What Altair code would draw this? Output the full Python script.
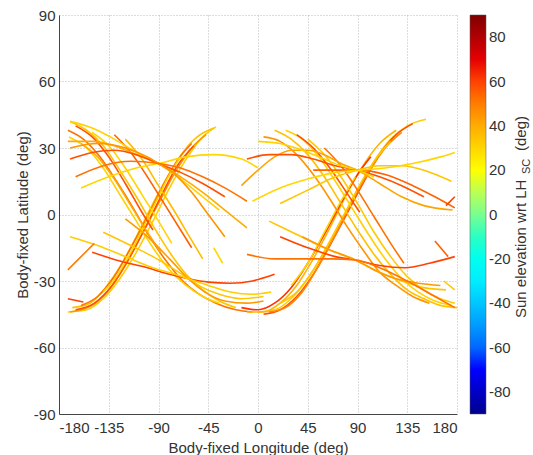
import altair as alt
import pandas as pd

# ---- data (lon, lat) per track, and sun elevation per track ----
left_asc = [
    [(-172,-44),(-155,-43),(-140,-38),(-125,-29),(-110,-17),(-95,-3),(-80,12),(-65,25),(-50,35),(-38,39.5)],
    [(-170,-44),(-150,-41),(-135,-34),(-120,-23),(-105,-9),(-90,5),(-75,19),(-60,30),(-47,36)],
    [(-165,-43),(-148,-40),(-132,-32),(-117,-20),(-102,-6),(-88,8),(-73,22),(-58,31)],
    [(-168,-42),(-152,-40),(-138,-33),(-124,-23),(-110,-10),(-96,4),(-82,17),(-68,28),(-55,35),(-40,39)],
    [(-160,-41),(-145,-37),(-130,-28),(-115,-15),(-100,-1),(-86,13),(-72,25),(-60,32)],
    [(-140,-35),(-128,-28),(-115,-17),(-103,-5),(-92,6),(-80,18),(-70,26)],
    [(-172,-38),(-158,-39.5)],
]
left_asc_sun = [32, 45, 58, 35, 52, 30, 60]

left_desc = [
    [(-170,42),(-155,38),(-140,31),(-125,20),(-110,8),(-95,-5),(-80,-17),(-65,-27),(-50,-34),(-35,-39),(-20,-42)],
    [(-172,38),(-158,34),(-143,26),(-128,15),(-113,3),(-98,-10),(-83,-21),(-68,-30),(-53,-36),(-38,-40),(-20,-43),(-5,-44)],
    [(-171,35),(-155,30),(-140,21),(-125,9),(-110,-3),(-95,-15),(-80,-25),(-65,-32),(-50,-37),(-35,-40)],
    [(-165,40),(-150,35),(-135,26),(-120,14),(-105,1),(-95,-7)],
    [(-160,32),(-145,26),(-130,16),(-115,4),(-100,-8),(-88,-17)],
    [(-150,37),(-135,31),(-120,21),(-105,9),(-90,-3),(-78,-13)],
    [(-130,36),(-115,28),(-100,17),(-85,5),(-70,-7),(-60,-15)],
    [(-120,34),(-105,25),(-90,13),(-75,1),(-62,-10),(-50,-20)],
]
left_desc_sun = [34, 52, 31, 58, 40, 30, 55, 36]

left_gentle = [
    [(-170,42),(-150,39),(-130,34),(-110,28),(-90,23),(-70,16),(-50,8),(-35,2)],
    [(-172,33),(-150,33),(-130,31),(-110,27),(-90,23),(-70,17),(-50,10),(-30,2),(-10,-6)],
    [(-170,25),(-150,28),(-130,29),(-110,27),(-90,23),(-70,19),(-50,14),(-30,8)],
    [(-160,12),(-135,17),(-110,21),(-90,23),(-65,26),(-40,27),(-15,25),(0,21)],
    [(-170,30),(-145,32),(-120,30),(-100,26),(-90,23),(-75,18),(-60,10),(-45,0),(-30,-10)],
    [(-165,17),(-140,22),(-115,24),(-90,23),(-70,21),(-50,17),(-30,12),(-10,6)],
]
left_gentle_sun = [31, 40, 58, 30, 45, 52]

left_lower = [
    [(-150,-17),(-125,-21),(-100,-24),(-80,-27),(-63,-29),(-45,-30.5),(-25,-31),(-5,-30),(15,-27)],
    [(-140,-8),(-115,-14),(-95,-19),(-75,-25),(-63,-29),(-50,-33),(-35,-36),(-15,-38),(5,-37)],
    [(-120,-2),(-100,-10),(-80,-20),(-63,-29),(-48,-35),(-30,-39),(-10,-40),(5,-39)],
    [(-170,-10),(-145,-14),(-120,-19),(-95,-24),(-75,-27),(-63,-29),(-45,-32),(-25,-35),(-5,-36),(12,-35)],
]
left_lower_sun = [60, 34, 44, 32]

right_asc = [
    [(0,-44),(15,-43),(30,-38),(45,-29),(60,-17),(75,-3),(90,11),(105,24),(120,34),(135,40),(152,43)],
    [(5,-45),(20,-43),(35,-37),(50,-27),(65,-14),(80,0),(95,14),(110,27),(125,36),(140,41)],
    [(-10,-44),(5,-44),(20,-40),(35,-32),(50,-20),(65,-6),(80,9),(95,22),(110,32),(125,38)],
    [(10,-44),(25,-42),(40,-35),(55,-23),(70,-9),(85,6),(100,19),(115,30),(130,37)],
    [(-15,-42),(0,-43),(15,-40),(30,-33),(45,-22),(60,-9),(75,5),(90,18),(102,26)],
    [(30,-32),(45,-22),(60,-8),(75,6),(88,17)],
    [(20,-40),(35,-35),(50,-25),(65,-12),(80,2),(95,16),(108,26),(120,33)],
]
right_asc_sun = [32, 58, 38, 48, 62, 30, 34]

right_desc = [
    [(15,38),(30,34),(45,27),(60,17),(75,5),(90,-7),(105,-18),(120,-27),(135,-34),(150,-38),(165,-41),(180,-42)],
    [(5,35),(20,33),(35,27),(50,18),(65,7),(80,-5),(95,-16),(110,-26),(125,-32),(140,-37),(155,-40)],
    [(25,38),(40,34),(55,26),(70,15),(85,3),(100,-9),(115,-20),(130,-29),(145,-35),(160,-39),(175,-41)],
    [(35,36),(50,30),(65,21),(80,10),(92,1)],
    [(45,34),(60,27),(75,17),(90,5),(105,-8),(120,-19),(135,-28),(150,-34),(165,-38),(178,-40)],
    [(60,30),(75,22),(90,11),(105,-1),(120,-13),(132,-22)],
]
right_desc_sun = [35, 45, 31, 58, 33, 52]

right_gentle = [
    [(-15,13),(0,20),(15,26),(30,29),(45,29),(60,27),(75,23),(90,20),(110,14),(130,8),(150,4),(176,2)],
    [(-10,25),(10,27),(30,27),(50,25),(70,22),(90,20),(110,17),(130,13),(150,8)],
    [(0,33),(20,32),(40,29),(60,25),(75,22),(90,20),(105,17)],
    [(20,5),(45,11),(70,17),(90,20),(110,22),(130,22),(150,20),(175,15)],
    [(50,20),(70,20),(90,20),(115,18),(140,13),(160,8),(178,3)],
    [(-5,6),(20,12),(45,16),(70,19),(90,20),(115,21),(140,23),(165,26),(178,28)],
]
right_gentle_sun = [42, 58, 31, 34, 55, 30]

right_lower = [
    [(20,-10),(45,-15),(70,-19),(88,-20.5),(110,-23),(133,-24),(155,-22),(178,-19)],
    [(10,-3),(35,-9),(60,-15),(88,-20.5),(110,-26),(130,-30),(150,-33),(170,-34)],
    [(40,-10),(65,-16),(88,-20.5),(105,-25),(125,-29),(145,-31),(165,-32)],
    [(-10,-18),(15,-20),(40,-20),(65,-20),(88,-20.5),(110,-24),(135,-30),(160,-37),(178,-42)],
]
right_lower_sun = [60, 34, 44, 52]

short_tracks = [
    [(-172,-25),(-160,-19),(-148,-13)],
    [(170,4),(178,8)],
    [(160,-12),(172,-19)],
    [(168,-30),(178,-34)],
    [(-40,-15),(-32,-22)],
]
short_sun = [50, 60, 55, 34, 30]

x_ticks = [-180, -135, -90, -45, 0, 45, 90, 135, 180]
y_ticks = [-90, -60, -30, 0, 30, 60, 90]
cbar_ticks = [-80, -60, -40, -20, 0, 20, 40, 60, 80]

# ---- build table ----
rows = []
tid = 0
for tracks, suns in [(left_asc, left_asc_sun), (left_desc, left_desc_sun),
                     (left_gentle, left_gentle_sun), (left_lower, left_lower_sun),
                     (right_asc, right_asc_sun), (right_desc, right_desc_sun),
                     (right_gentle, right_gentle_sun), (right_lower, right_lower_sun),
                     (short_tracks, short_sun)]:
    for pts, s in zip(tracks, suns):
        for i, (lo, la) in enumerate(pts):
            rows.append({"track": tid, "i": i, "lon": lo, "lat": la, "sun": s})
        tid += 1
df = pd.DataFrame(rows)

FONT = "Liberation Sans"
TXT = "#333333"
jet = alt.Scale(domain=[-90, -70, -25, 20, 65, 90],
                range=["#00008F", "#0000FF", "#00FFFF", "#FFFF00", "#FF0000", "#800000"])

lines = alt.Chart(df).mark_line(strokeWidth=1.6, interpolate="monotone", clip=True).encode(
    x=alt.X("lon:Q", scale=alt.Scale(domain=[-180, 180], nice=False, zero=False),
            axis=alt.Axis(values=x_ticks, title="Body-fixed Longitude (deg)", titleY=38,
                          titleBaseline="alphabetic", labelPadding=6,
                          labelExpr="'' + datum.value")),
    y=alt.Y("lat:Q", scale=alt.Scale(domain=[-90, 90], nice=False, zero=False),
            axis=alt.Axis(values=y_ticks, title="Body-fixed Latitude (deg)", titleX=-32,
                          titleBaseline="alphabetic", labelPadding=4,
                          labelExpr="'' + datum.value")),
    color=alt.Color("sun:Q", scale=jet,
                    legend=alt.Legend(title=None, orient="none", legendX=411, legendY=0,
                                      direction="vertical", gradientLength=399,
                                      gradientThickness=16, values=cbar_ticks,
                                      labelFontSize=15, labelFont=FONT, labelColor=TXT,
                                      labelOffset=3, labelOverlap=False,
                                      labelExpr="'' + datum.value",
                                      gradientStrokeColor="#555555", gradientStrokeWidth=0.5)),
    detail="track:N",
    order="i:Q",
)

cb_main = alt.Chart(pd.DataFrame({"t": ["Sun elevation wrt LH"]})).mark_text(
    angle=270, align="left", baseline="alphabetic", fontSize=15, font=FONT, color=TXT
).encode(text="t:N", x=alt.value(467), y=alt.value(303))
cb_sub = alt.Chart(pd.DataFrame({"t": ["SC"]})).mark_text(
    angle=270, align="left", baseline="alphabetic", fontSize=11, font=FONT, color=TXT
).encode(text="t:N", x=alt.value(471), y=alt.value(159))
cb_deg = alt.Chart(pd.DataFrame({"t": ["(deg)"]})).mark_text(
    angle=270, align="left", baseline="alphabetic", fontSize=15, font=FONT, color=TXT
).encode(text="t:N", x=alt.value(467), y=alt.value(136))

chart = alt.layer(lines, cb_main, cb_sub, cb_deg).properties(
    width=398, height=399,
    autosize=alt.AutoSizeParams(type="none"),
    padding={"left": 59, "top": 15, "right": 76, "bottom": 41},
    background="white",
).configure_view(strokeWidth=0).configure_axis(
    labelFont=FONT, titleFont=FONT, labelFontSize=15, titleFontSize=15,
    labelColor=TXT, titleColor=TXT, titleFontWeight="normal",
    domainColor="#444444", domainWidth=1, ticks=False,
    gridColor="#b8b8b8", gridDash=[1, 2], gridWidth=1,
)

chart.save("out.html", embed_options={"renderer": "svg", "actions": False})
